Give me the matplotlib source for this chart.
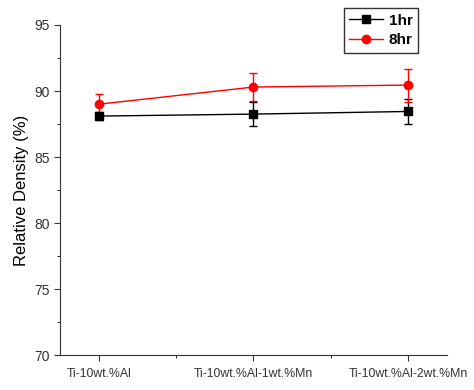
import numpy as np
import matplotlib.pyplot as plt
from matplotlib.ticker import MultipleLocator
from matplotlib.lines import Line2D

plt.rcParams['font.family'] = ['Liberation Sans', 'DejaVu Sans']

categories = ["Ti-10wt.%Al", "Ti-10wt.%Al-1wt.%Mn", "Ti-10wt.%Al-2wt.%Mn"]
density_1hr = [88.1, 88.25, 88.45]
err_1hr = [0.3, 0.9, 0.95]
density_8hr = [89.0, 90.3, 90.45]
err_8hr = [0.8, 1.05, 1.25]

fig = plt.figure(figsize=(4.74, 3.9), dpi=100)
ax = fig.add_axes([0.1266, 0.0897, 0.8164, 0.8462])

x = np.arange(len(categories))
ax.errorbar(x, density_1hr, yerr=err_1hr, color='black', marker='s', ms=6,
            lw=1, capsize=3, elinewidth=1)
ax.errorbar(x, density_8hr, yerr=err_8hr, color='red', marker='o', ms=6,
            lw=1, capsize=3, elinewidth=1)

ax.set_xlim(-0.25, 2.25)
ax.set_ylim(70, 95)
ax.set_xticks(x)
ax.set_xticklabels(categories)
ax.xaxis.set_minor_locator(MultipleLocator(0.5))
ax.yaxis.set_major_locator(MultipleLocator(5))
ax.yaxis.set_minor_locator(MultipleLocator(2.5))
ax.tick_params(axis='both', which='major', direction='out', length=4, labelsize=10, colors='#333333')
ax.tick_params(axis='x', labelsize=8.8, pad=5)
ax.tick_params(axis='both', which='minor', direction='out', length=2.5)
for s in ['top', 'right']:
    ax.spines[s].set_visible(False)
for s in ['left', 'bottom']:
    ax.spines[s].set_color('#333333')
ax.set_ylabel("Relative Density (%)", fontsize=12)

handles = [Line2D([], [], color='black', marker='s', ms=6, lw=1),
           Line2D([], [], color='red', marker='o', ms=6, lw=1)]
leg = ax.legend(handles, ['1hr', '8hr'], loc='upper right', bbox_to_anchor=(0.925, 1.05),
                fontsize=11, fancybox=False, edgecolor='black', handlelength=2.2,
                borderpad=0.35, labelspacing=0.35, handletextpad=0.4, borderaxespad=0)
leg.get_frame().set_linewidth(1)
for t in leg.get_texts():
    t.set_fontweight('bold')

fig.savefig("out.png", dpi=100)
